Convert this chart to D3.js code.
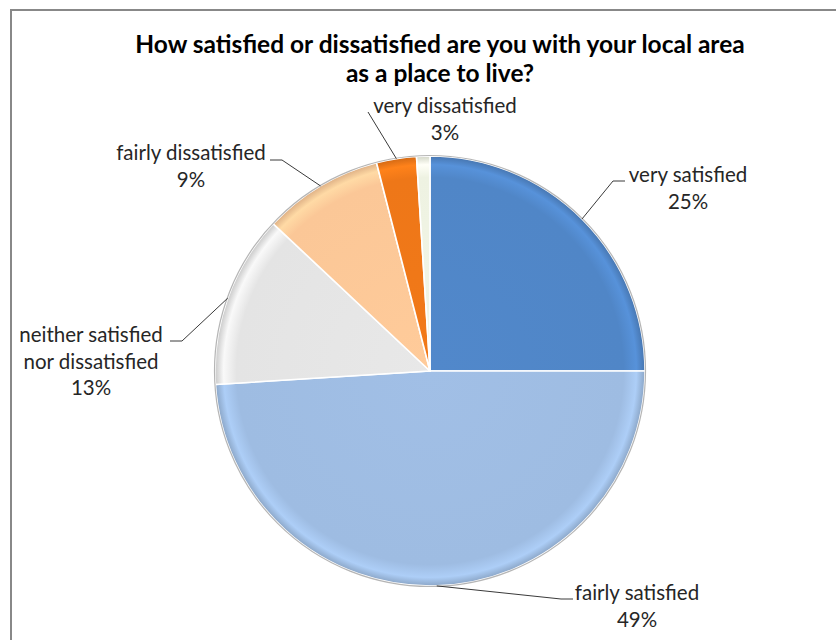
<!DOCTYPE html>
<html>
<head>
<meta charset="utf-8">
<script src="https://cdn.jsdelivr.net/npm/d3@7"></script>
<style>
  html, body { margin: 0; padding: 0; background: #fff; }
  svg { display: block; }
</style>
</head>
<body>
<svg id="chart" width="836" height="640"></svg>
<script>
// ---- data ----
const categories = ["very satisfied", "fairly satisfied", "neither satisfied nor dissatisfied", "fairly dissatisfied", "very dissatisfied", "don't know"];
const values = [25, 49, 13, 9, 3, 1];
const labelLines = [
  ["very satisfied", "25%"],
  ["fairly satisfied", "49%"],
  ["neither satisfied", "nor dissatisfied", "13%"],
  ["fairly dissatisfied", "9%"],
  ["very dissatisfied", "3%"],
  null
];
const titleLines = ["How satisfied or dissatisfied are you with your local area", "as a place to live?"];

// ---- layout / style (kept apart from data) ----
const colors = ["#5086c7", "#9ebce2", "#e4e4e4", "#fbc797", "#ee7718", "#eef2e2"];
const cx = 430, cy = 371, R = 215;
// label anchor (text centre x, first baseline y) and leader elbow points
const labelLayout = [
  {x: 688, y: 182, elbow: [[613, 181], [625, 181]]},
  {x: 637, y: 600, elbow: [[561, 599], [573, 599]]},
  {x: 91,  y: 342, elbow: [[182, 341], [170, 341]]},
  {x: 191, y: 160, elbow: [[282, 160], [270, 160]]},
  {x: 445, y: 113, elbow: [[368, 112]]},
  null
];
const lineH = 26.5;

const svg = d3.select("#chart");
const defs = svg.append("defs");

// chart border
svg.append("rect")
  .attr("x", 11).attr("y", 10).attr("width", 900).attr("height", 700)
  .attr("fill", "#fff").attr("stroke", "#888").attr("stroke-width", 2);

// title
const title = svg.append("text")
  .attr("text-anchor", "middle")
  .attr("font-family", "Lato, 'Open Sans', sans-serif")
  .attr("font-weight", "bold")
  .attr("font-size", 24.5)
  .attr("fill", "#000");
titleLines.forEach((t, i) => {
  title.append("tspan").attr("x", 440).attr("y", 53 + i * 29).text(t);
});

// pie
const pie = d3.pie().sort(null).value(d => d)
  .startAngle(0).endAngle(2 * Math.PI);
const arcs = pie(values);
const arc = d3.arc().innerRadius(0).outerRadius(R);

const g = svg.append("g").attr("transform", `translate(${cx},${cy})`);

colors.forEach((c, i) => {
  const grad = defs.append("radialGradient")
    .attr("id", "g" + i).attr("gradientUnits", "userSpaceOnUse")
    .attr("cx", 0).attr("cy", 0).attr("r", R);
  const base = d3.color(c);
  grad.append("stop").attr("offset", "0%").attr("stop-color", base.brighter(0.05));
  grad.append("stop").attr("offset", "90%").attr("stop-color", base);
  grad.append("stop").attr("offset", "96%").attr("stop-color", base.brighter(0.25));
  grad.append("stop").attr("offset", "100%").attr("stop-color", base.darker(0.35));
});

g.selectAll("path.slice")
  .data(arcs)
  .join("path")
  .attr("class", "slice")
  .attr("d", arc)
  .attr("fill", (d, i) => `url(#g${i})`)
  .attr("stroke", "#ffffff")
  .attr("stroke-width", 1.6)
  .attr("stroke-linejoin", "round");

// outer rim
g.append("circle").attr("r", R + 0.5)
  .attr("fill", "none").attr("stroke", "rgba(90,90,90,0.45)").attr("stroke-width", 1.2);

// leader lines and labels
const edgeArc = d3.arc().innerRadius(R).outerRadius(R);
const labelsG = svg.append("g")
  .attr("font-family", "Lato, 'Open Sans', sans-serif")
  .attr("font-size", 20.5)
  .attr("fill", "#262626");

arcs.forEach((d, i) => {
  const L = labelLayout[i];
  if (!L || !labelLines[i]) return;
  const p = edgeArc.centroid(d);
  const pts = [[p[0] + cx, p[1] + cy]].concat(L.elbow);
  svg.append("path")
    .attr("d", d3.line()(pts))
    .attr("fill", "none")
    .attr("stroke", "#3a3a3a")
    .attr("stroke-width", 1);
  const t = labelsG.append("text").attr("text-anchor", "middle");
  labelLines[i].forEach((s, k) => {
    t.append("tspan").attr("x", L.x).attr("y", L.y + k * lineH).text(s);
  });
});
</script>
</body>
</html>
